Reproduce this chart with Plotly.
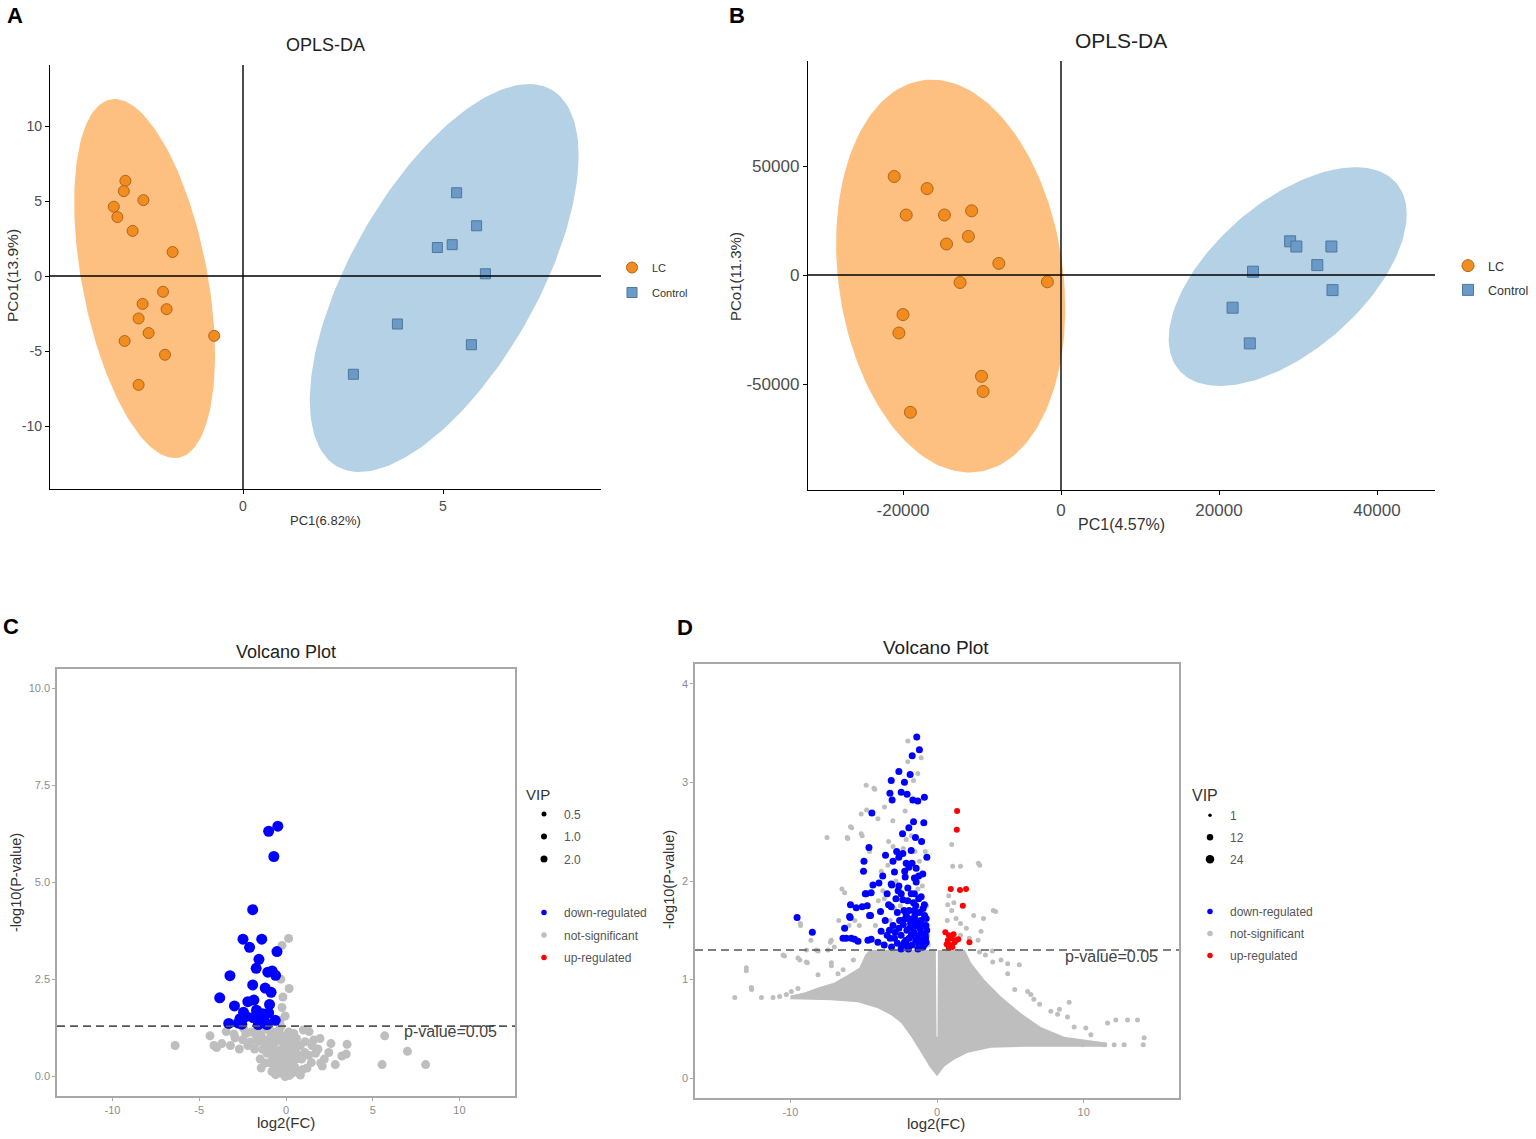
import numpy as np
import plotly.graph_objects as go

FONT = "Liberation Sans, Arial, Helvetica, sans-serif"
W, H = 1536, 1139

# ---------------- Panel A: OPLS-DA ----------------
a_lc_x = [-2.94, -2.98, -2.49, -3.23, -3.14, -2.76, -1.76, -2.00, -2.51, -1.91, -2.61, -2.36, -2.96, -0.72, -1.95, -2.61]
a_lc_y = [6.35, 5.66, 5.06, 4.62, 3.93, 3.01, 1.60, -1.05, -1.86, -2.21, -2.83, -3.80, -4.33, -3.99, -5.25, -7.26]
a_ctrl_x = [5.34, 5.84, 4.86, 5.23, 6.06, 3.86, 5.71, 2.76]
a_ctrl_y = [5.55, 3.35, 1.90, 2.09, 0.15, -3.20, -4.58, -6.55]
# confidence ellipses: centre x, centre y, half width, half height, x offset of top point
a_lc_ell = (-2.46, -0.17, 1.76, 11.97, -0.75)
a_ctrl_ell = (5.03, -0.13, 3.36, 12.93, 2.12)
a_xticks = [0, 5]
a_yticks = [-10, -5, 0, 5, 10]

# ---------------- Panel B: OPLS-DA ----------------
b_lc_x = [-21114, -16949, -19595, -14759, -11316, -11721, -14494, -7873, -12772, -1722, -20000, -20519, -10063, -9861, -19063]
b_lc_y = [45183, 39633, 27523, 27523, 29450, 17706, 14220, 5321, -3440, -3119, -18165, -26606, -46468, -53440, -62982]
b_ctrl_x = [29000, 29797, 34228, 32443, 24304, 34367, 21722, 23899]
b_ctrl_y = [15459, 13073, 13073, 4541, 1514, -6927, -15000, -31376]
b_lc_ell = (-13968, -482, 14500, 90115, -2386)
b_ctrl_ell = (28696, -734, 15063, 50183, 8582)
b_xticks = [-20000, 0, 20000, 40000]
b_yticks = [-50000, 0, 50000]

# ---------------- Panel C: volcano ----------------
c_down_x = [-0.47, -1.00, -0.70, -1.92, -2.48, -1.40, -2.10, -0.52, -1.56, -3.23, -1.72, -1.05, -0.80, -0.60,
            -1.92, -1.20, -0.86, -3.82, -2.97, -2.20, -1.85, -0.95, -2.45, -2.65, -1.70, -1.35, -1.00, -3.30,
            -2.75, -1.52, -1.22, -0.62, -1.90, -2.30, -1.60, -1.10, -2.55]
c_down_y = [6.45, 6.32, 5.67, 4.30, 3.54, 3.54, 3.33, 3.22, 3.02, 2.60, 2.79, 2.69, 2.72, 2.61,
            2.36, 2.28, 2.17, 2.03, 1.82, 1.93, 1.97, 1.86, 1.66, 1.49, 1.71, 1.62, 1.64, 1.37,
            1.38, 1.44, 1.41, 1.45, 1.52, 1.55, 1.34, 1.34, 1.35]
c_ns_x = [0.15, -0.23, -0.30, 0.18, -0.18, -0.23, -0.05, -0.35,
          -6.39, -4.38, -4.15, -3.70, -3.20, -2.94, -2.69, -2.32, -2.06, -1.81, -1.49, -1.43, -1.18, -1.06,
          -0.93, -0.81, -0.68, -0.55, -0.43, -0.30, -0.18, -0.05, 0.08, 0.20, 0.33, 0.45, 0.58, 0.83, 0.96,
          1.08, 1.33, 1.46, 1.59, 1.84, 1.96, 2.21, 2.59, 2.84, 3.22, 3.52, 3.47, 5.69, 5.54, 7.00, 8.05,
          -1.18, -1.69, -2.44, -3.45, -1.43, -0.81, 0.20, 0.83, 1.21, 2.09, 2.47, -0.30, -0.68,
          -1.30, -1.00, -0.80, -0.60, -0.50, -0.30, -0.10, 0.00, 0.10, 0.30, 0.50, 0.60, 0.70, 0.90, 1.10,
          1.30, -0.90, -1.60, -2.00, -0.40, 0.00, -0.20, 0.40, 1.00, 1.70, -2.50, -1.20, 0.20, -0.60, 0.70,
          1.50, 2.00, -3.00, -4.00,
          -1.10, -0.70, -0.35, -0.15, 0.05, 0.25, 0.45, -0.95, -0.55, -0.25, 0.15, 0.35, -1.35, -0.75,
          -0.45, 0.10, 0.60, -1.70, -2.20, -0.05]
c_ns_y = [3.56, 3.38, 2.51, 2.27, 2.05, 1.78, 1.56, 1.45,
          0.80, 1.05, 0.80, 0.85, 0.80, 1.00, 0.71, 1.11, 0.89, 0.71, 0.45, 1.07, 0.85, 0.62,
          0.36, 1.16, 0.71, 0.22, 0.53, 0.09, 0.89, 0.00, 0.31, 0.71, 0.09, 1.11, 0.45, 0.80, 0.18,
          0.62, 1.16, 0.36, 0.94, 0.71, 0.98, 0.45, 0.85, 0.31, 0.53, 0.83, 0.58, 1.05, 0.31, 0.65, 0.31,
          1.24, 1.20, 1.24, 1.16, 0.22, 0.13, 0.03, 0.04, 0.22, 0.27, 0.62, 1.29, 1.11,
          0.95, 0.75, 0.55, 0.90, 0.40, 0.70, 0.50, 0.20, 0.85, 0.50, 0.25, 0.75, 0.10, 0.45, 0.90,
          0.55, 1.00, 0.90, 1.15, 1.20, 1.05, 0.30, 0.95, 1.20, 0.60, 0.95, 0.35, 0.15, 0.05, 0.55,
          0.80, 0.35, 1.10, 0.75,
          0.60, 0.28, 0.15, 0.62, 0.40, 0.32, 0.62, 1.18, 1.02, 1.05, 1.15, 0.80, 0.70, 0.85,
          0.95, 0.68, 0.98, 1.05, 0.80, 0.88]
c_vip_labels = ["0.5", "1.0", "2.0"]
c_xticks = [-10, -5, 0, 5, 10]
c_yticks = [0.0, 2.5, 5.0, 7.5, 10.0]

# ---------------- Panel D: volcano ----------------
d_down_x = [-1.38, -1.20, -1.69, -2.60, -1.83, -2.22, -3.12, -3.21, -2.44, -2.04, -1.65, -1.31, -0.86, -3.06,
            -4.44, -0.90, -1.92, -1.47, -4.64, -2.33, -1.76, -0.69, -4.98, -3.51, -2.60, -2.10, -1.92, -5.01,
            -2.90, -1.42, -0.97, -2.17, -1.54, -3.96, -3.12, -1.42, -4.37, -3.08, -2.60, -1.99,
            -4.49, -4.89, -3.40, -2.44, -1.54, -1.08, -1.76, -4.83, -2.80, -2.00, -1.60, -2.33, -5.90, -5.51,
            -5.10, -4.76, -0.86, -3.12, -1.54, -3.85, -4.53, -5.92, -9.54, -4.60, -3.53, -2.44, -1.31, -0.74,
            -5.96, -2.10, -1.90, -2.70, -1.20, -3.30,
            -8.50, -6.30, -6.41, -6.19, -5.85, -5.62, -5.39, -4.71, -4.49, -4.03, -3.81, -3.24, -2.90, -2.22,
            -1.08, -0.74, -3.60, -3.00, -2.60, -2.45, -2.30, -2.05, -1.90, -1.80, -1.70, -1.55, -1.45, -1.35,
            -1.25, -1.15, -1.00, -0.90, -0.80, -2.70, -3.40, -2.00, -1.60, -1.40, -1.75, -2.15, -0.95, -1.30,
            -1.85, -2.40, -3.10, -0.70,
            -2.25, -1.95, -1.65, -1.50, -1.10, -0.85, -0.75, -2.55, -2.85, -3.20, -1.45, -1.25, -0.95, -2.65,
            -2.20, -1.70, -1.25, -2.75, -2.35, -1.60, -1.05, -3.00, -3.70, -1.15, -0.85, -2.10, -2.45, -1.95,
            -1.30, -0.78]
d_down_y = [3.46, 3.33, 3.27, 3.11, 3.08, 3.00, 3.02, 2.89, 2.90, 2.88, 2.82, 2.81, 2.85, 2.82,
            2.69, 2.59, 2.54, 2.44, 2.34, 2.28, 2.31, 2.24, 2.20, 2.26, 2.24, 2.18, 2.14, 2.10,
            2.09, 2.13, 2.07, 2.04, 2.03, 1.98, 1.97, 1.99, 1.96, 1.96, 1.95, 1.93,
            1.88, 1.87, 1.87, 1.87, 1.87, 1.84, 1.87, 1.87, 1.82, 1.80, 1.78, 1.81, 1.76, 1.73,
            1.74, 1.75, 1.76, 1.74, 1.70, 1.69, 1.65, 1.63, 1.63, 1.65, 1.60, 1.60, 1.57, 1.62,
            1.64, 1.66, 1.70, 1.68, 1.68, 1.76,
            1.48, 1.52, 1.42, 1.42, 1.42, 1.41, 1.39, 1.40, 1.41, 1.38, 1.49, 1.50, 1.42, 1.38,
            1.47, 1.38, 1.35, 1.55, 1.52, 1.45, 1.56, 1.50, 1.42, 1.57, 1.35, 1.48, 1.40, 1.55,
            1.36, 1.52, 1.40, 1.55, 1.45, 1.37, 1.45, 1.34, 1.62, 1.60, 1.45, 1.62, 1.33, 1.44,
            1.52, 1.34, 1.33, 1.50,
            1.70, 1.62, 1.52, 1.66, 1.60, 1.65, 1.55, 1.60, 1.48, 1.42, 1.75, 1.82, 1.72, 1.90,
            2.10, 2.18, 2.05, 2.30, 2.48, 2.60, 2.40, 2.20, 2.05, 1.35, 1.36, 1.40, 1.31, 1.31,
            1.31, 1.42]
d_up_x = [1.37, 1.35, 0.94, 1.57, 1.98, 1.76, 0.57, 0.81, 1.13, 0.74, 1.00, 1.20, 0.90, 0.66, 1.30, 2.21, 1.05, 0.80, 1.45]
d_up_y = [2.71, 2.52, 1.92, 1.91, 1.92, 1.75, 1.48, 1.45, 1.46, 1.40, 1.42, 1.38, 1.35, 1.36, 1.40, 1.38, 1.33, 1.32, 1.41]
d_ns_x = [-1.99, -1.08, -1.99, -1.31, -1.60, -4.83, -4.30, -4.24, -5.17, -4.80, -4.03, -3.58, -3.01, -2.17,
          -5.90, -5.82, -5.17, -5.10, -6.12, -7.50, -6.08, -3.30, -2.10, -1.75, -2.30, -1.50, -3.00, -4.60,
          1.00, 1.07, 1.60, 2.82, 2.91, -6.48, -6.30, -3.35, -3.80, -3.70, -2.80, -1.20, -1.00, -0.80,
          0.73, 1.00, 1.30, 1.60, 2.00, 3.00, 3.84, 4.00, 3.17, 2.50, 1.60, 2.20, 2.80, 3.77, 0.70, 0.80,
          1.15, -9.32, -9.50, -9.30, -8.60, -7.21, -7.27, -8.10, -8.90, -7.00, -6.70, -6.00, -5.60, -5.30,
          -4.20, -3.60, -2.90, -2.50, -1.30, -0.70, -0.65, -0.60, -4.00, -3.20,
          -13.79, -12.66, -13.00, -13.00, -12.64, -11.97, -11.18, -10.73, -10.27, -9.93, -9.48, -10.50,
          -10.40, -9.48, -9.35, -8.91, -8.84, -8.23, -7.43, -7.20, -7.20, -8.11, -6.75, -6.40, -5.70,
          3.80, 4.36, 4.82, 5.61, 4.82, 6.18, 6.40, 9.01, 8.35, 11.63, 12.19, 12.99, 13.67, 14.12, 14.06,
          12.76, 12.08, 11.40, 10.49, 10.15, 9.92, 9.35, 8.90, 8.22, 7.76, 7.00, 6.60, 5.30, 3.30, 2.90]
d_ns_y = [3.42, 3.25, 3.21, 3.09, 3.02, 2.97, 2.94, 2.93, 2.68, 2.72, 2.63, 2.75, 2.61, 2.71,
          2.55, 2.54, 2.48, 2.46, 2.44, 2.44, 2.43, 2.40, 2.42, 2.46, 2.33, 2.30, 2.35, 2.30,
          2.37, 2.15, 2.15, 2.18, 2.16, 1.92, 1.88, 2.16, 2.10, 1.90, 2.00, 2.20, 1.95, 2.30,
          1.76, 1.70, 1.62, 1.57, 1.52, 1.49, 1.70, 1.69, 1.62, 1.65, 1.45, 1.42, 1.40, 1.29, 1.60, 1.85,
          1.78, 1.57, 1.62, 1.55, 1.40, 1.40, 1.38, 1.29, 1.30, 1.33, 1.60, 1.55, 1.60, 1.55,
          1.55, 1.82, 1.72, 1.75, 1.92, 1.75, 1.45, 1.35, 1.80, 1.60,
          0.82, 0.92, 1.12, 1.09, 0.90, 0.82, 0.82, 0.83, 0.85, 0.88, 0.91, 1.25,
          1.24, 1.22, 1.20, 1.18, 1.17, 1.30, 1.30, 1.17, 1.14, 1.05, 1.06, 1.10, 1.20,
          1.18, 1.20, 1.16, 1.15, 1.06, 0.88, 0.85, 0.77, 0.70, 0.56, 0.59, 0.59, 0.59, 0.41, 0.34,
          0.34, 0.34, 0.34, 0.44, 0.51, 0.34, 0.52, 0.62, 0.65, 0.68, 0.75, 0.80, 0.90, 1.25, 1.28]
# outline of the dense cloud of non-significant features (thousands of overlapping points)
d_cloud_x = [0.00, -0.52, -1.08, -1.76, -2.44, -3.12, -4.03, -5.39, -7.20, -9.03, -10.00,
             -10.00, -9.03, -8.11, -6.98, -6.07, -5.30, -4.90, -4.60,
             -0.08, -0.03, 0.03, 0.06,
             1.90, 2.32, 3.23, 4.36, 5.72, 7.08, 8.67, 11.60,
             11.60, 8.22, 5.95, 3.68, 2.10, 1.18, 0.50]
d_cloud_y = [0.02, 0.12, 0.26, 0.42, 0.56, 0.64, 0.71, 0.77, 0.79, 0.80, 0.80,
             0.84, 0.87, 0.92, 0.97, 1.05, 1.12, 1.25, 1.30,
             1.30, 0.42, 0.42, 1.30,
             1.30, 1.17, 1.00, 0.83, 0.66, 0.52, 0.42, 0.36,
             0.32, 0.32, 0.32, 0.31, 0.26, 0.19, 0.12]
d_vip_labels = ["1", "12", "24"]
d_xticks = [-10, 0, 10]
d_yticks = [0, 1, 2, 3, 4]

P_CUTOFF = 0.05
reg_labels = ["down-regulated", "not-significant", "up-regulated"]
reg_colors = ["#0000FF", "#BEBEBE", "#FF0000"]


def ellipse(cx, cy, w, h, dt, n=181):
    t = np.linspace(0, 2 * np.pi, n)
    k = dt * h / w
    x = cx + w * np.cos(t)
    y = cy + k * np.cos(t) + np.sqrt(h ** 2 - k ** 2) * np.sin(t)
    return x, y


def dom_x(p0, p1):
    return [p0 / W, p1 / W]


def dom_y(top, bottom):
    return [1 - bottom / H, 1 - top / H]


fig = go.Figure()

# ---- OPLS-DA panels
for xa, ya, leg, lc, ctrl, lce, ctrle, msize in [
        ("x", "y", "legend", (a_lc_x, a_lc_y), (a_ctrl_x, a_ctrl_y), a_lc_ell, a_ctrl_ell, 11),
        ("x2", "y2", "legend2", (b_lc_x, b_lc_y), (b_ctrl_x, b_ctrl_y), b_lc_ell, b_ctrl_ell, 12)]:
    for ell, col in [(lce, "#FDC080"), (ctrle, "#B4D1E6")]:
        ex, ey = ellipse(*ell)
        fig.add_trace(go.Scatter(x=ex, y=ey, mode="lines", fill="toself", fillcolor=col,
                                 line=dict(width=0), hoverinfo="skip", showlegend=False,
                                 xaxis=xa, yaxis=ya))
    fig.add_trace(go.Scatter(x=lc[0], y=lc[1], mode="markers", name="LC", legend=leg, legendgroup="lc",
                             marker=dict(symbol="circle", size=msize, color="#F28C1E",
                                         line=dict(color="#B0651C", width=1)),
                             xaxis=xa, yaxis=ya))
    fig.add_trace(go.Scatter(x=ctrl[0], y=ctrl[1], mode="markers", name="Control", legend=leg,
                             legendgroup="ctrl",
                             marker=dict(symbol="square", size=msize - 1, color="#6A9BC8",
                                         line=dict(color="#50779C", width=1)),
                             xaxis=xa, yaxis=ya))

# ---- Volcano panels
fig.add_trace(go.Scatter(x=c_ns_x, y=c_ns_y, mode="markers", showlegend=False,
                         marker=dict(size=9, color=reg_colors[1]), xaxis="x3", yaxis="y3"))
fig.add_trace(go.Scatter(x=c_down_x, y=c_down_y, mode="markers", showlegend=False,
                         marker=dict(size=11, color=reg_colors[0]), xaxis="x3", yaxis="y3"))

fig.add_trace(go.Scatter(x=d_cloud_x, y=d_cloud_y, mode="lines", fill="toself", fillcolor=reg_colors[1],
                         line=dict(width=0), hoverinfo="skip", showlegend=False, xaxis="x4", yaxis="y4"))
fig.add_trace(go.Scatter(x=d_ns_x, y=d_ns_y, mode="markers", showlegend=False,
                         marker=dict(size=5, color=reg_colors[1]), xaxis="x4", yaxis="y4"))
fig.add_trace(go.Scatter(x=d_down_x, y=d_down_y, mode="markers", showlegend=False,
                         marker=dict(size=7, color=reg_colors[0]), xaxis="x4", yaxis="y4"))
fig.add_trace(go.Scatter(x=d_up_x, y=d_up_y, mode="markers", showlegend=False,
                         marker=dict(size=6, color=reg_colors[2]), xaxis="x4", yaxis="y4"))

# legend-only entries for the volcano panels (VIP size key + regulation colour key)
for vleg, rleg, xa, ya, labels, sizes in [("legend3", "legend5", "x3", "y3", c_vip_labels, [5, 6, 7]),
                                          ("legend4", "legend6", "x4", "y4", d_vip_labels, [3.5, 6.5, 8.5])]:
    for i, lab in enumerate(labels):
        fig.add_trace(go.Scatter(x=[None], y=[None], mode="markers", name=lab, legend=vleg,
                                 legendgroup=f"vip{i}", legendrank=i + 1,
                                 marker=dict(size=sizes[i], color="black"), xaxis=xa, yaxis=ya))
    for i, lab in enumerate(reg_labels):
        fig.add_trace(go.Scatter(x=[None], y=[None], mode="markers", name=lab, legend=rleg,
                                 legendgroup=f"reg{i}", legendrank=10 + i,
                                 marker=dict(size=5.5, color=reg_colors[i]), xaxis=xa, yaxis=ya))


def opls_axis(domain, rng, ticks, anchor, tsize):
    return dict(domain=domain, range=rng, tickvals=ticks, ticktext=[str(v) for v in ticks],
                anchor=anchor, automargin=False,
                showline=True, linecolor="black", linewidth=1.4, ticks="outside", ticklen=4,
                tickcolor="black", tickwidth=1.2, showgrid=False, zeroline=False,
                tickfont=dict(family=FONT, size=tsize, color="#4D4D4D"))


def volcano_axis(domain, rng, ticks, anchor, labels):
    return dict(domain=domain, range=rng, tickvals=ticks, ticktext=labels, anchor=anchor,
                automargin=False, showline=True, mirror=True, linecolor="#A8A8A8", linewidth=1.5,
                ticks="outside", ticklen=3, tickcolor="#A8A8A8", showgrid=False, zeroline=False,
                tickfont=dict(family=FONT, size=11, color="#8C8C8C"))


def key_legend(x, y, gap, size, title=None, tsize=15):
    leg = dict(x=x / W, y=1 - y / H, xanchor="left", yanchor="top", bgcolor="rgba(0,0,0,0)",
               traceorder="grouped", tracegroupgap=gap, itemwidth=30,
               font=dict(family=FONT, size=size, color="#555555"))
    if title:
        leg["title"] = dict(text=title, font=dict(family=FONT, size=tsize, color="#333333"))
    return leg


fig.update_layout(
    width=W, height=H, margin=dict(l=0, r=0, t=0, b=0), autosize=False,
    paper_bgcolor="white", plot_bgcolor="rgba(0,0,0,0)",
    font=dict(family=FONT, color="#333333"),
    xaxis=opls_axis(dom_x(50, 601), [-4.825, 8.95], a_xticks, "y", 14),
    yaxis=opls_axis(dom_y(65, 489), [-14.2, 14.07], a_yticks, "x", 14),
    xaxis2=opls_axis(dom_x(808, 1435), [-32025, 47342], b_xticks, "y2", 17),
    yaxis2=opls_axis(dom_y(61, 490), [-98624, 98165], b_yticks, "x2", 17),
    xaxis3=volcano_axis(dom_x(57, 515), [-13.2, 13.2], c_xticks, "y3", [str(v) for v in c_xticks]),
    yaxis3=volcano_axis(dom_y(669, 1096), [-0.5, 10.5], c_yticks, "x3", [f"{v:.1f}" for v in c_yticks]),
    xaxis4=volcano_axis(dom_x(695, 1179), [-16.5, 16.5], d_xticks, "y4", [str(v) for v in d_xticks]),
    yaxis4=volcano_axis(dom_y(664, 1098), [-0.2, 4.2], d_yticks, "x4", [str(v) for v in d_yticks]),
    legend=dict(x=612 / W, y=1 - 253 / H, xanchor="left", yanchor="top", bgcolor="rgba(0,0,0,0)",
                traceorder="grouped", tracegroupgap=6, itemwidth=30,
                font=dict(family=FONT, size=11, color="#333333")),
    legend2=dict(x=1448 / W, y=1 - 251 / H, xanchor="left", yanchor="top", bgcolor="rgba(0,0,0,0)",
                 traceorder="grouped", tracegroupgap=5, itemwidth=30,
                 font=dict(family=FONT, size=12.5, color="#333333")),
    legend3=key_legend(524, 780, 3.5, 12, "VIP", 15),
    legend5=key_legend(524, 898, 3.5, 12),
    legend4=key_legend(1190, 780, 3, 12, "VIP", 16),
    legend6=key_legend(1190, 897, 3, 12),
)

# zero reference lines of the OPLS-DA score plots
for xa, ya in [("x", "y"), ("x2", "y2")]:
    fig.add_shape(type="line", xref=f"{xa} domain", yref=ya, x0=0, x1=1, y0=0, y1=0,
                  line=dict(color="black", width=1.4))
    fig.add_shape(type="line", xref=xa, yref=f"{ya} domain", x0=0, x1=0, y0=0, y1=1,
                  line=dict(color="black", width=1.4))

# p-value threshold
thr = -np.log10(P_CUTOFF)
for xa, ya, tx, ty in [("x3", "y3", 9.5, 1.155), ("x4", "y4", 11.9, 1.23)]:
    fig.add_shape(type="line", xref=f"{xa} domain", yref=ya, x0=0, x1=1, y0=thr, y1=thr,
                  line=dict(color="#555555", width=1.6, dash="8px,5px"))
    fig.add_annotation(x=tx, y=ty, xref=xa, yref=ya, text=f"p-value={P_CUTOFF}", showarrow=False,
                       font=dict(family=FONT, size=16, color="#444444"))


def paper_text(text, px, py, size, color="#333333", angle=0):
    fig.add_annotation(x=px / W, y=1 - py / H, xref="paper", yref="paper", text=text, showarrow=False,
                       xanchor="center", yanchor="middle", textangle=angle,
                       font=dict(family=FONT, size=size, color=color))


# panel titles
paper_text("OPLS-DA", 325, 45, 18, "#222222")
paper_text("OPLS-DA", 1121, 41, 21, "#222222")
paper_text("Volcano Plot", 286, 652, 18, "#222222")
paper_text("Volcano Plot", 936, 647, 19, "#222222")
# axis titles
paper_text("PC1(6.82%)", 325, 521, 13)
paper_text("PCo1(13.9%)", 12, 276, 15.5, angle=-90)
paper_text("PC1(4.57%)", 1121, 524, 16)
paper_text("PCo1(11.3%)", 736, 277, 15, angle=-90)
paper_text("log2(FC)", 286, 1122, 15)
paper_text("-log10(P-value)", 16, 883, 14.5, angle=-90)
paper_text("log2(FC)", 936, 1123, 15)
paper_text("-log10(P-value)", 669, 880, 14.5, angle=-90)
# panel letters
for letter, px, py in [("A", 15, 16), ("B", 737, 16), ("C", 11, 626), ("D", 685, 627)]:
    paper_text(f"<b>{letter}</b>", px, py, 22, "black")

# drop the default page margin so the figure sits at the window's top-left corner
fig.write_html("out.html", config={"displayModeBar": False},
               post_script="document.body.style.margin='0';")
